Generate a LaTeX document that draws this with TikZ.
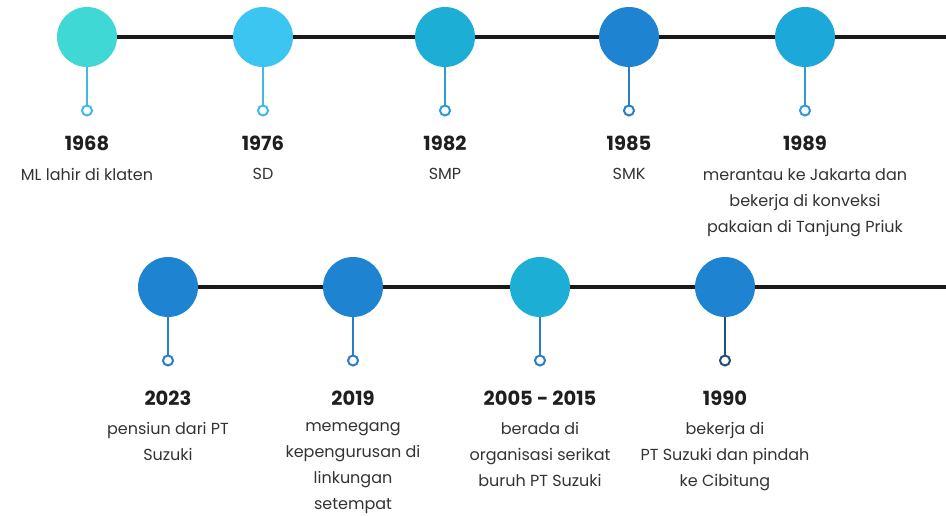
\documentclass[tikz,border=0pt]{standalone}
\usepackage{fontspec}
\setmainfont{Poppins}
\definecolor{turq}{HTML}{3FD8D4}
\definecolor{sky}{HTML}{3BC5F0}
\definecolor{cyan}{HTML}{1DAED6}
\definecolor{royal}{HTML}{1E84D1}
\definecolor{lagoon}{HTML}{1CA8D8}
\definecolor{stemlight}{HTML}{43B8E6}
\definecolor{stemmid}{HTML}{2F9AD6}
\definecolor{stemblue}{HTML}{2A7EC6}
\definecolor{stemnavy}{HTML}{1F4F7A}
\begin{document}
\begin{tikzpicture}[
    x=1pt,
    y=-1pt,
    dot/.style={circle, minimum size=60pt, inner sep=0pt},
    pin/.style={circle, draw, line width=2pt, fill=white, minimum size=10pt, inner sep=0pt},
    stem/.style={line width=2pt},
    track/.style={draw=black!90, line width=3.4pt},
    year/.style={font=\fontsize{19.5}{22}\selectfont\bfseries, text=black!88},
    desc/.style={font=\fontsize{16}{26}\selectfont, text=black!80, align=center, inner sep=0pt}
  ]
    \useasboundingbox (0,0) rectangle (946,515);
    \def\yearoff{106}
    \def\descoff{131}
    \newcommand{\milestone}[7]{%
      \node[dot, fill=#4] (#1) at (#2,#3) {};
      \node[pin, draw=#5] (#1p) at (#2,#3+73.5) {};
      \draw[stem, draw=#5] (#1) -- (#1p);
      \node[year] (#1y) at (#2,#3+\yearoff) {#6};
      \node[desc, anchor=north] (#1d) at (#2,#3+\descoff) {#7};
    }

    % top row
    \milestone{a}{87}{37}{turq}{stemlight}{1968}{ML lahir di klaten}
    \milestone{b}{263}{37}{sky}{stemlight}{1976}{SD}
    \milestone{c}{445}{37}{cyan}{stemmid}{1982}{SMP}
    \milestone{d}{629}{37}{royal}{stemblue}{1985}{SMK}
    \milestone{e}{805}{37}{lagoon}{stemmid}{1989}{merantau ke Jakarta dan\\bekerja di konveksi\\pakaian di Tanjung Priuk}
    \coordinate (topend) at (946,37);
    \foreach \from/\to in {a/b,b/c,c/d,d/e,e/topend} {
      \draw[track] (\from) -- (\to);
    }

    % bottom row
    \def\yearoff{111}
    \def\descoff{135}
    \milestone{f}{168}{287}{royal}{stemblue}{2023}{pensiun dari PT\\Suzuki}
    \milestone{g}{353}{287}{royal}{stemblue}{2019}{memegang\\kepengurusan di\\linkungan\\setempat}
    \milestone{h}{540}{287}{cyan}{stemblue}{2005 - 2015}{berada di\\organisasi serikat\\buruh PT Suzuki}
    \milestone{i}{725}{287}{royal}{stemnavy}{1990}{bekerja di\\PT Suzuki dan pindah\\ke Cibitung}
    \coordinate (botend) at (946,287);
    \foreach \from/\to in {f/g,g/h,h/i,i/botend} {
      \draw[track] (\from) -- (\to);
    }
  \end{tikzpicture}
\end{document}
